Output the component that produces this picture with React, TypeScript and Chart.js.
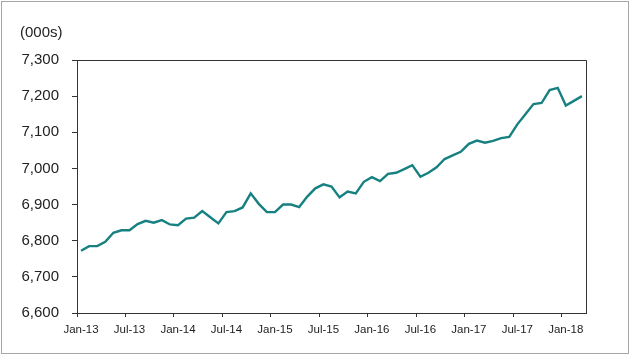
import React, { useEffect, useRef } from "react";
import { Chart, registerables } from "chart.js";

Chart.register(...registerables);

const MONTHS = ["Jan", "Feb", "Mar", "Apr", "May", "Jun", "Jul", "Aug", "Sep", "Oct", "Nov", "Dec"];
const YEARS = ["13", "14", "15", "16", "17", "18"];
const MONTH_COUNT = 63; // Jan-13 .. Mar-18

const categories: string[] = [];
for (const y of YEARS) for (const m of MONTHS) categories.push(`${m}-${y}`);
const labels = categories.slice(0, MONTH_COUNT);

const employment = [
  6772, 6785, 6785, 6797, 6822, 6829, 6829, 6846, 6855, 6850, 6857, 6845,
  6843, 6861, 6864, 6882, 6865, 6848, 6879, 6882, 6892, 6931, 6902, 6879,
  6879, 6900, 6900, 6893, 6922, 6945, 6956, 6950, 6920, 6936, 6931, 6963,
  6976, 6965, 6985, 6988, 6998, 7009, 6977, 6988, 7003, 7026, 7036, 7046,
  7068, 7077, 7071, 7076, 7084, 7087, 7122, 7150, 7178, 7181, 7217, 7223,
  7174, 7187, 7200,
];

const Y_MIN = 6600;
const Y_MAX = 7300;
const Y_STEP = 100;
const UNIT_LABEL = "(000s)";

const FONT = "'Liberation Sans', Arial, sans-serif";

export default function App() {
  const ref = useRef<HTMLCanvasElement | null>(null);

  useEffect(() => {
    document.body.style.margin = "0";
    const canvas = ref.current;
    if (!canvas) return;

    const decor = {
      id: "decor",
      afterDraw(chart: any) {
        const { ctx, chartArea } = chart;
        ctx.save();
        ctx.strokeStyle = "#333333";
        ctx.lineWidth = 1;
        ctx.beginPath();
        ctx.moveTo(Math.round(chartArea.left) + 0.5, Math.round(chartArea.top) + 0.5);
        ctx.lineTo(Math.round(chartArea.right) + 0.5, Math.round(chartArea.top) + 0.5);
        ctx.lineTo(Math.round(chartArea.right) + 0.5, Math.round(chartArea.bottom) + 0.5);
        ctx.stroke();
        ctx.strokeStyle = "#a6a6a6";
        ctx.strokeRect(1.5, 1.5, 627, 352);
        ctx.fillStyle = "#222222";
        ctx.font = `15px ${FONT}`;
        ctx.textAlign = "left";
        ctx.textBaseline = "alphabetic";
        ctx.fillText(UNIT_LABEL, 20, 37);
        ctx.restore();
      },
    };

    const chart = new Chart(canvas, {
      type: "line",
      data: {
        labels,
        datasets: [
          {
            data: employment,
            borderColor: "#178080",
            borderWidth: 2.4,
            pointRadius: 0,
            tension: 0,
            fill: false,
          },
        ],
      },
      options: {
        responsive: false,
        animation: false,
        layout: { padding: { top: 60, right: 44, left: 0, bottom: 0 } },
        plugins: { legend: { display: false }, tooltip: { enabled: false } },
        scales: {
          x: {
            type: "category",
            offset: true,
            afterFit: (s: any) => {
              s.height = 45;
            },
            grid: {
              offset: true,
              drawOnChartArea: false,
              tickLength: 4,
              tickColor: (c: any) => (c.index % 6 === 0 ? "#333333" : "rgba(0,0,0,0)"),
            },
            border: { color: "#333333", width: 1 },
            ticks: {
              autoSkip: false,
              maxRotation: 0,
              minRotation: 0,
              padding: 6,
              color: "#222222",
              font: { family: FONT, size: 11.5 },
              callback: (_v: any, i: number) => (i % 6 === 0 ? labels[i] : ""),
            },
          },
          y: {
            min: Y_MIN,
            max: Y_MAX,
            afterFit: (s: any) => {
              s.width = 77;
            },
            grid: {
              drawOnChartArea: false,
              tickLength: 5,
              tickColor: "#333333",
            },
            border: { color: "#333333", width: 1 },
            ticks: {
              stepSize: Y_STEP,
              padding: 13,
              color: "#222222",
              font: { family: FONT, size: 15 },
              callback: (v: any) => Number(v).toLocaleString("en-US"),
            },
          },
        },
      },
      plugins: [decor],
    });

    return () => chart.destroy();
  }, []);

  return (
    <div style={{ width: 630, height: 358, position: "relative", background: "#fff" }}>
      <canvas ref={ref} width={630} height={358} style={{ display: "block" }} />
    </div>
  );
}
